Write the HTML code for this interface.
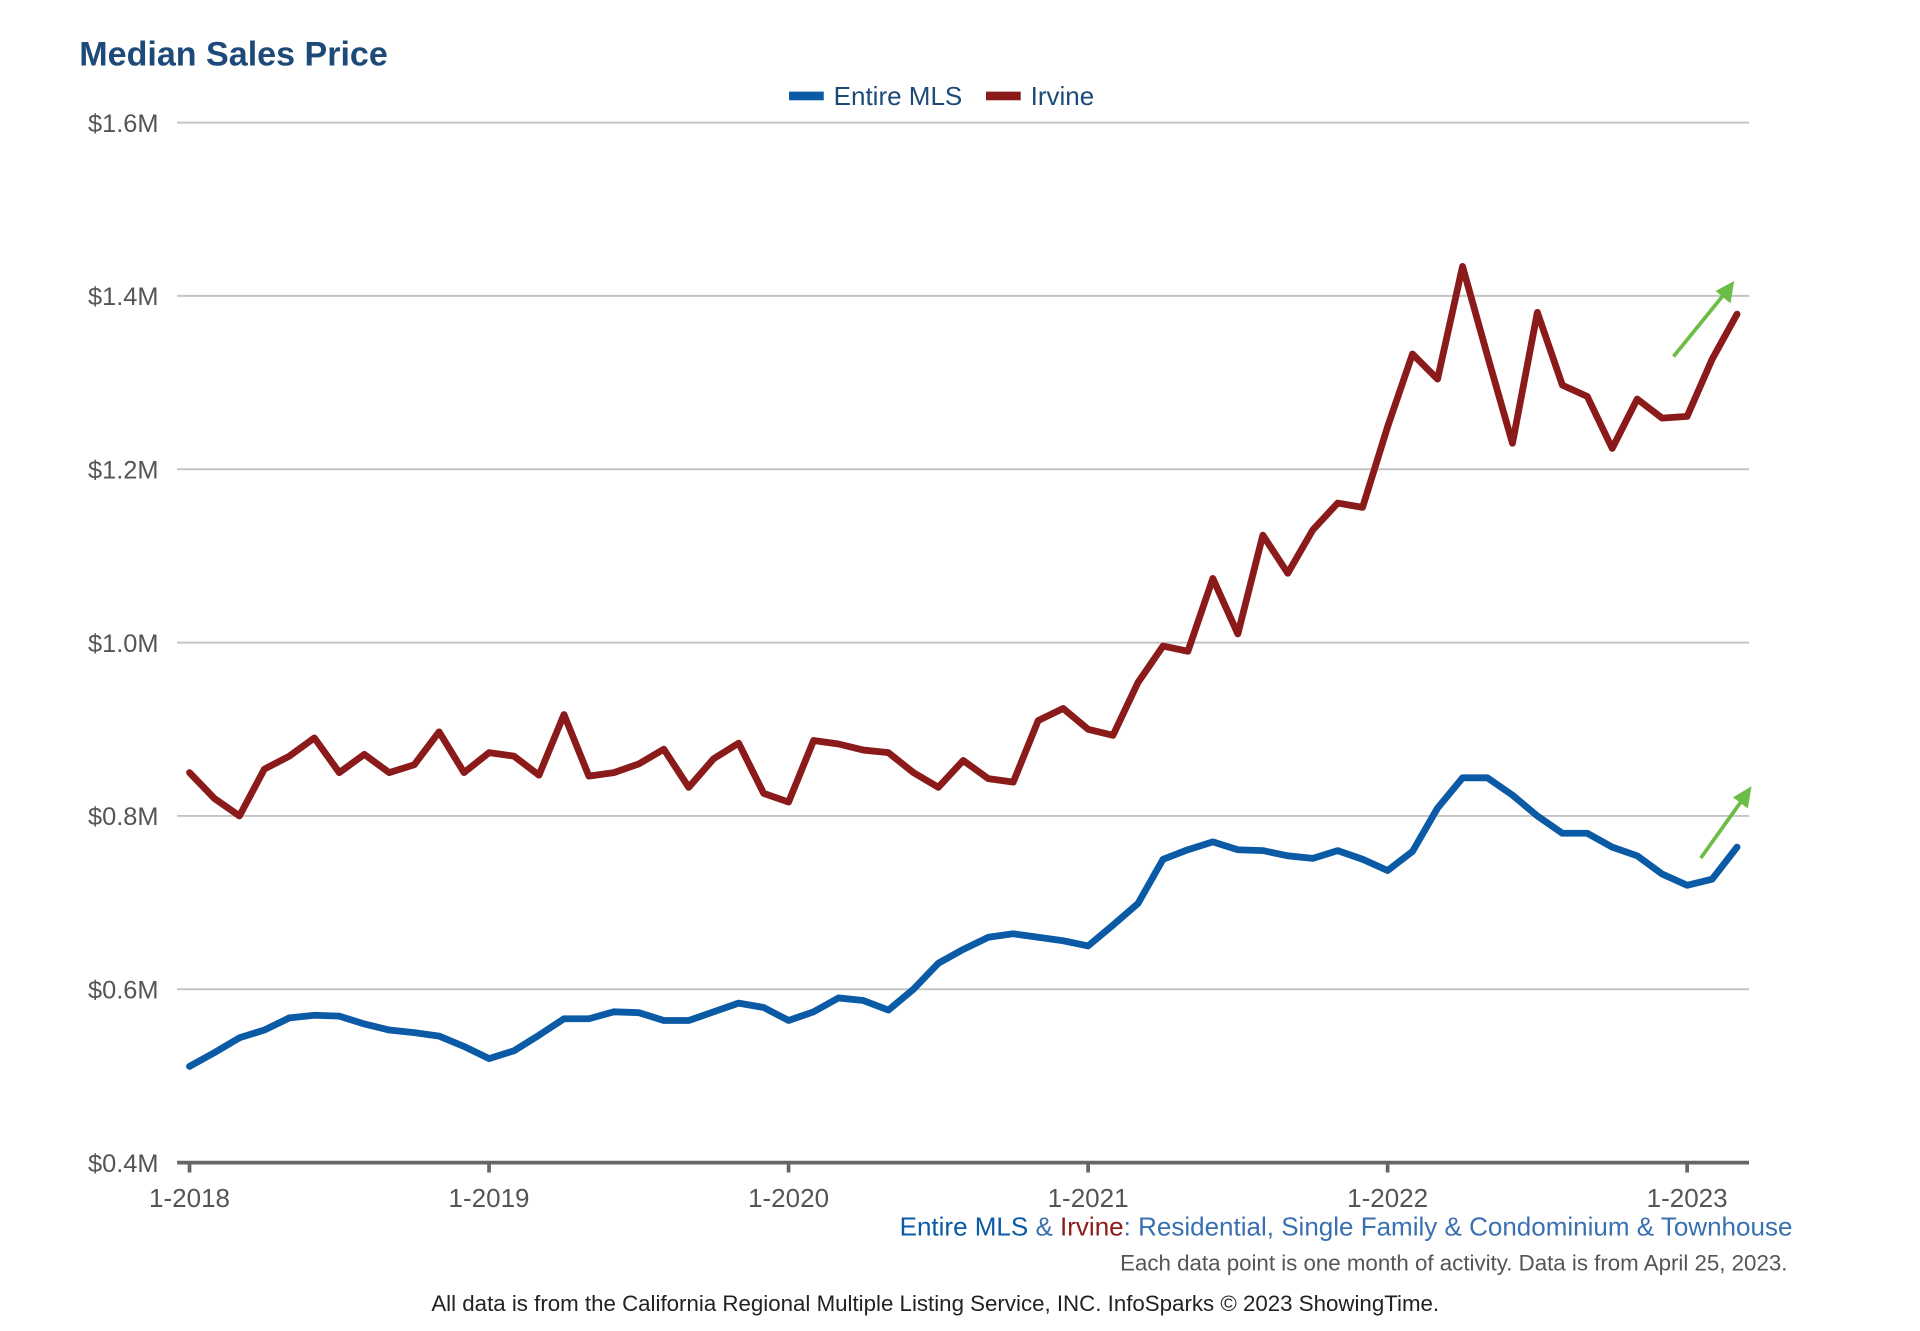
<!DOCTYPE html>
<html><head><meta charset="utf-8"><style>
html,body{margin:0;padding:0;background:#fff;}
svg{display:block;font-family:"Liberation Sans",Arial,sans-serif;}
</style></head><body>
<svg id="chart" width="1920" height="1331" viewBox="0 0 1550 1075" preserveAspectRatio="none" xmlns="http://www.w3.org/2000/svg">
<text x="64" y="53" font-size="27.5" font-weight="bold" fill="#1d4a78">Median Sales Price</text>
<g>
<g><rect x="637" y="74" width="28" height="7" fill="#0a5aa6"/><text x="673" y="85" font-size="21" fill="#1d4a78">Entire MLS</text></g>
<g><rect x="796" y="74" width="28" height="7" fill="#8b1a1a"/><text x="832" y="85" font-size="21" fill="#1d4a78">Irvine</text></g>
</g>
<g id="grid"></g>
<g id="yaxis"></g>
<g id="xaxis"></g>
<g id="series"></g>
<g>
<line x1="1351" y1="288" x2="1394" y2="235" stroke="#6cbd45" stroke-width="3"/>
<polygon points="1400,227 1397,245 1385,235" fill="#6cbd45"/>
<line x1="1373" y1="693" x2="1408" y2="644" stroke="#6cbd45" stroke-width="3"/>
<polygon points="1414,635 1411,653 1399,644" fill="#6cbd45"/>
</g>
<text x="1447" y="998" font-size="21" text-anchor="end" fill="#3a70b0"><tspan fill="#0a5aa6">Entire MLS</tspan><tspan fill="#3a70b0"> &amp; </tspan><tspan fill="#8b1a1a">Irvine</tspan>: Residential, Single Family &amp; Condominium &amp; Townhouse</text>
<text x="1443" y="1026" font-size="18" text-anchor="end" fill="#555">Each data point is one month of activity. Data is from April 25, 2023.</text>
<text x="755" y="1059" font-size="18" text-anchor="middle" fill="#222">All data is from the California Regional Multiple Listing Service, INC. InfoSparks © 2023 ShowingTime.</text>
</svg>
<script>
const yTicks = [0.4, 0.6, 0.8, 1.0, 1.2, 1.4, 1.6];
const yTickLabels = ["$0.4M","$0.6M","$0.8M","$1.0M","$1.2M","$1.4M","$1.6M"];
const xTickMonths = [0, 12, 24, 36, 48, 60];
const xTickLabels = ["1-2018","1-2019","1-2020","1-2021","1-2022","1-2023"];
const irvine = [0.850,0.82,0.80,0.854,0.869,0.89,0.85,0.871,0.85,0.859,0.897,0.85,0.873,0.869,0.847,0.917,0.846,0.85,0.86,0.877,0.833,0.866,0.884,0.826,0.816,0.887,0.883,0.876,0.873,0.85,0.833,0.864,0.843,0.839,0.91,0.924,0.90,0.893,0.954,0.996,0.99,1.074,1.01,1.124,1.08,1.13,1.161,1.156,1.249,1.333,1.304,1.434,1.331,1.23,1.381,1.297,1.284,1.224,1.281,1.259,1.261,1.327,1.379];
const entireMLS = [0.511,0.527,0.544,0.553,0.567,0.57,0.569,0.56,0.553,0.55,0.546,0.534,0.52,0.529,0.547,0.566,0.566,0.574,0.573,0.564,0.564,0.574,0.584,0.579,0.564,0.574,0.59,0.587,0.576,0.60,0.63,0.646,0.66,0.664,0.66,0.656,0.65,0.674,0.699,0.75,0.761,0.77,0.761,0.76,0.754,0.751,0.76,0.75,0.737,0.759,0.809,0.844,0.844,0.824,0.80,0.78,0.78,0.764,0.754,0.733,0.72,0.727,0.764];

const NS="http://www.w3.org/2000/svg";
const X0=153, X60=1362, Y0=939, Y1=99, PLOT_L=143, PLOT_R=1412;
const xScale = m => X0 + (X60-X0)*m/60;
const yScale = v => Y0 - (v-0.4)/(1.6-0.4)*(Y0-Y1);
function mk(tag, attrs, parent){const e=document.createElementNS(NS,tag);for(const k in attrs)e.setAttribute(k,attrs[k]);parent.appendChild(e);return e;}
const grid=document.getElementById('grid'), ya=document.getElementById('yaxis'), xa=document.getElementById('xaxis'), ser=document.getElementById('series');
yTicks.forEach((v,i)=>{
  const y=yScale(v);
  if(i>0){const l=mk('line',{x1:PLOT_L,x2:PLOT_R,y1:y,y2:y,stroke:'#c4c4c4','stroke-width':1.6},grid);
  
  }
  const t=mk('text',{x:128,y:y+7.5,'font-size':20.5,'text-anchor':'end',fill:'#555'},ya);
  t.textContent=yTickLabels[i];
  
  
});
const ax=mk('line',{x1:PLOT_L,x2:PLOT_R,y1:Y0,y2:Y0,stroke:'#666','stroke-width':3},xa);


xTickMonths.forEach((m,i)=>{
  const x=xScale(m);
  const tk=mk('line',{x1:x,x2:x,y1:Y0,y2:Y0+8,stroke:'#666','stroke-width':3},xa);
  
  
  const t=mk('text',{x:x,y:Y0+36,'font-size':21,'text-anchor':'middle',fill:'#555'},xa);
  t.textContent=xTickLabels[i];
  
  
});
function line(data,color,name){
  const d=data.map((v,i)=>(i?'L':'M')+xScale(i).toFixed(1)+','+yScale(v).toFixed(1)).join(' ');
  const p=mk('path',{d:d,fill:'none',stroke:color,'stroke-width':5.5,'stroke-linejoin':'round','stroke-linecap':'round'},ser);
  
  
}
line(entireMLS,'#0a5aa6','entire-mls-line');
line(irvine,'#8b1a1a','irvine-line');
</script>
</body></html>
